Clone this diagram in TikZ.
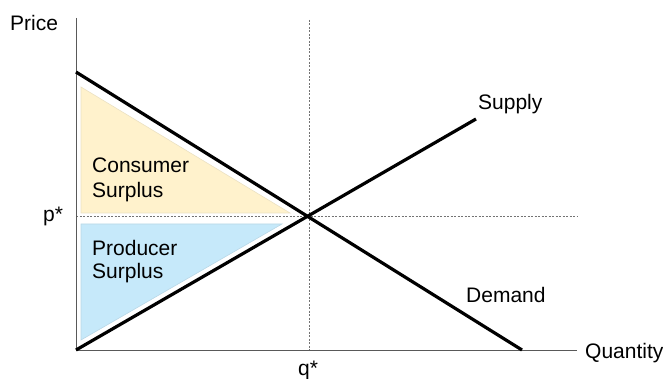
\documentclass[tikz,border=0pt]{standalone}
\usepackage{fontspec}
\setmainfont{Liberation Sans}
\begin{document}
\begin{tikzpicture}[x=1pt,y=-1pt,
  lbl/.style={inner sep=0pt,font=\fontsize{21}{25}\selectfont},
  axis/.style={draw=black!65,line width=1pt},
  guide/.style={draw=black!55,line width=0.8pt,dash pattern=on 2pt off 1.5pt},
  curve/.style={draw=black,line width=3.2pt},
  cs/.style={fill={rgb,255:red,255;green,242;blue,204},draw={rgb,255:red,235;green,225;blue,195},line width=0.6pt},
  ps/.style={fill={rgb,255:red,198;green,233;blue,250},draw={rgb,255:red,185;green,215;blue,230},line width=0.6pt}]
\useasboundingbox (0,0) rectangle (663,379);
% coordinates
\coordinate (O) at (76,350);
\coordinate (ytop) at (76,18);
\coordinate (xend) at (577,350);
\coordinate (dA) at (76,72);
\coordinate (dB) at (522,350);
\coordinate (sB) at (476,119);
\coordinate (E) at (309,216);
\coordinate (qtop) at (309,20);
\coordinate (qbot) at (309,350);
\coordinate (pl) at (76,216);
\coordinate (pr) at (577,216);
% surplus areas
\path[cs] (81,87) -- (81,213) -- (290,213) -- cycle;
\path[ps] (81,224) -- (81,340) -- (282,224) -- cycle;
% guides
\draw[guide] (qtop) -- (qbot);
\draw[guide] (pl) -- (pr);
% axes
\draw[axis] (ytop) -- (O) -- (xend);
% curves
\draw[curve] (dA) -- (dB);
\draw[curve] (O) -- (sB);
% labels
\node[lbl,anchor=base west] (price) at (10,31) {Price};
\node[lbl,anchor=base west] (pstar) at (43,222) {p*};
\node[lbl,anchor=base] (qstar) at (308,375) {q*};
\node[lbl,anchor=base west] (qty) at (585,358) {Quantity};
\node[lbl,anchor=base west] (supply) at (478,110) {Supply};
\node[lbl,anchor=base west] (demand) at (466,302) {Demand};
\node[lbl,anchor=base west] (cs1) at (92,173) {Consumer};
\node[lbl,anchor=base west] (cs2) at (92,198) {Surplus};
\node[lbl,anchor=base west] (ps1) at (92,255) {Producer};
\node[lbl,anchor=base west] (ps2) at (92,278) {Surplus};
\end{tikzpicture}
\end{document}
